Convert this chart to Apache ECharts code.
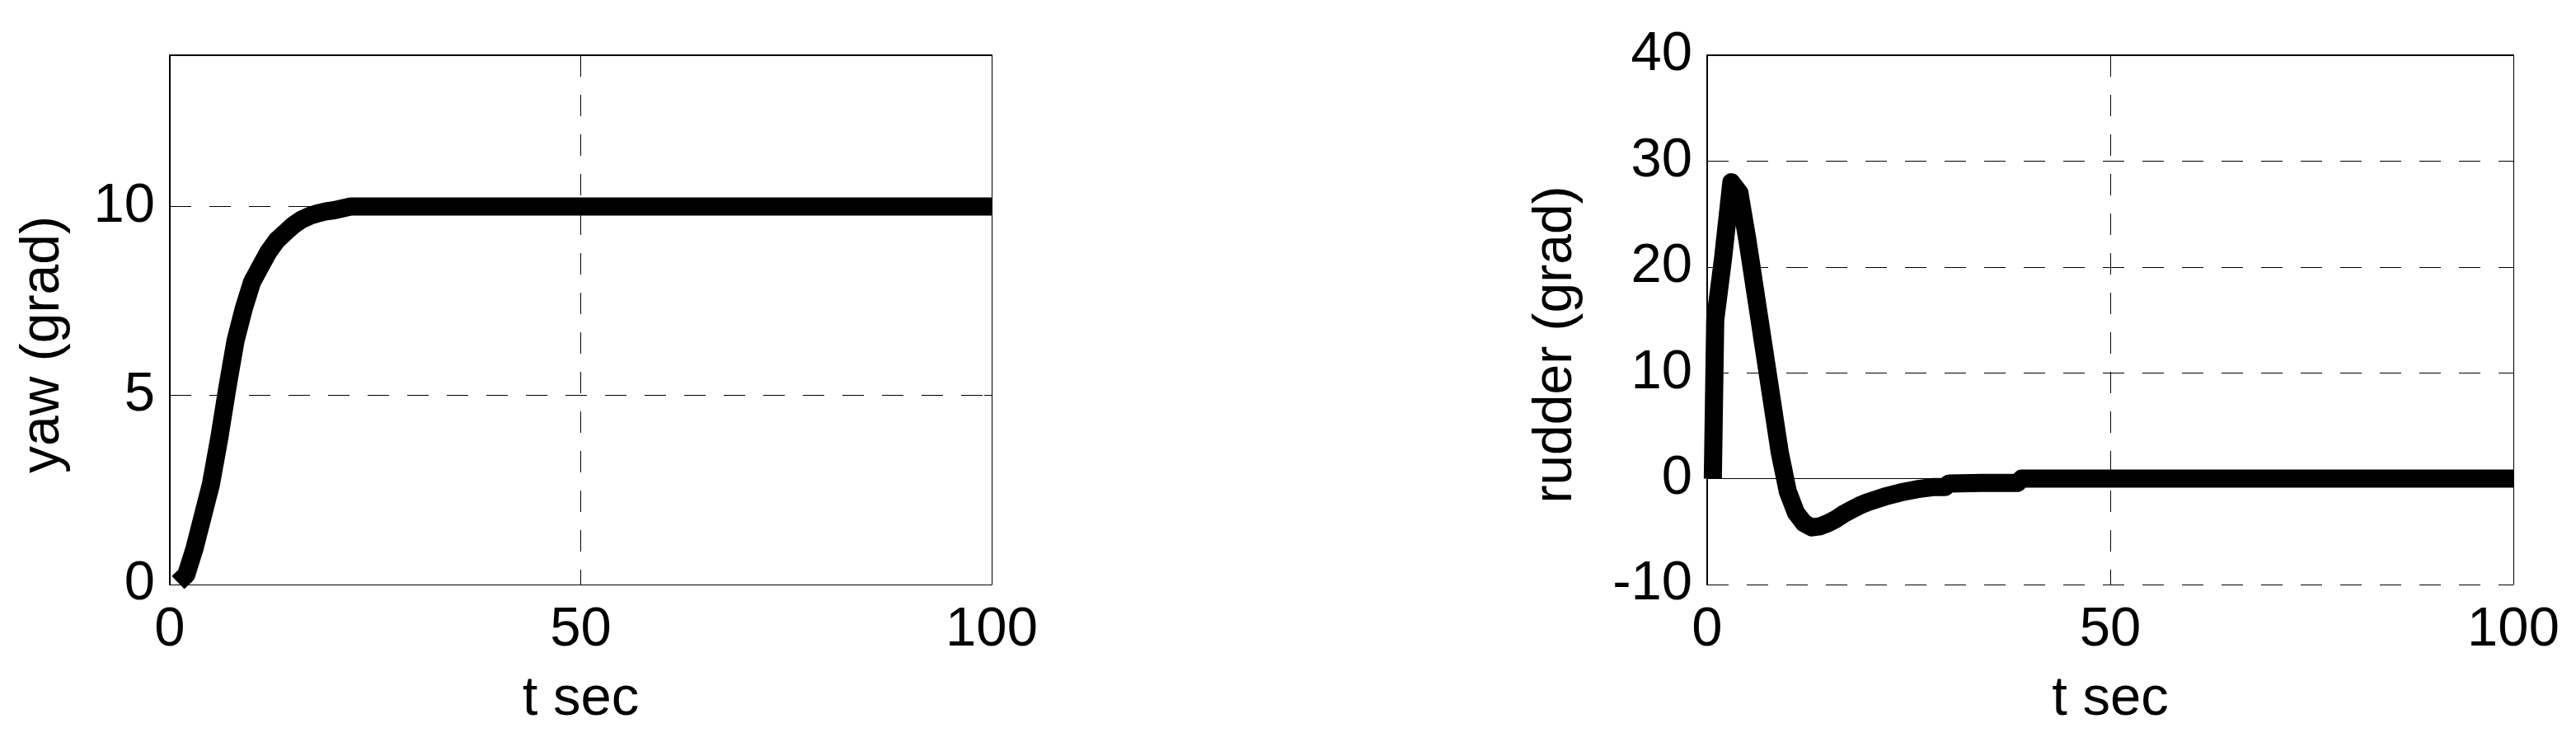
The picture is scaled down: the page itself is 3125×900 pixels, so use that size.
<!DOCTYPE html>
<html>
<head>
<meta charset="utf-8">
<script src="https://cdn.jsdelivr.net/npm/echarts@6/dist/echarts.min.js"></script>
<style>
  html, body { margin: 0; padding: 0; background: #fff; }
  #chart { width: 3125px; height: 900px; }
</style>
</head>
<body>
<div id="chart"></div>
<script>
// yaw response
const yawT = [1, 2, 3, 4, 5, 6, 7, 8, 9, 10, 11, 12, 13, 14, 15, 16, 17, 18, 19, 20, 21, 22, 100]
const yawVal = [0.05, 0.26, 0.95, 1.8, 2.65, 3.85, 5.2, 6.45, 7.3, 8.0, 8.4, 8.8, 9.1, 9.3, 9.5, 9.65, 9.75, 9.82, 9.87, 9.9, 9.95, 10, 10]

// rudder angle
const rudT = [0.7, 1, 2, 3, 4, 5, 6, 7, 8, 9, 10, 11, 12, 13, 14, 15, 16, 17, 18, 19, 20, 22, 24, 26, 28, 29.5, 30, 34, 38.5, 39, 100]
const rudVal = [0, 15, 21, 28, 27, 22.5, 17.5, 12.5, 7.5, 2.5, -1.2, -3.2, -4.2, -4.6, -4.5, -4.2, -3.8, -3.3, -2.9, -2.5, -2.2, -1.7, -1.3, -1.0, -0.8, -0.8, -0.45, -0.4, -0.4, 0, 0]

const xTicks = [0, 50, 100]
const yawTicks = [0, 5, 10]
const rudTicks = [-10, 0, 10, 20, 30, 40]

const FONT = "'Liberation Sans', Arial, sans-serif"
const pairs = (xs, ys) => xs.map((x, i) => [x, ys[i]])

const dashed = { show: true, lineStyle: { color: '#000', width: 1, type: [26, 22] } }
const tick = { show: true, inside: true, length: 9, lineStyle: { color: '#000', width: 1 } }
const label = (ticks) => ({
  show: true,
  color: '#000',
  fontFamily: FONT,
  fontSize: 67,
  margin: 18,
  formatter: (v) => (ticks.indexOf(v) >= 0 ? String(v) : '')
})

const mainX = (gi) => ({
  type: 'value', gridIndex: gi, min: 0, max: 100, interval: 50,
  position: 'bottom',
  name: 't sec', nameLocation: 'middle', nameGap: 106,
  nameTextStyle: { color: '#000', fontFamily: FONT, fontSize: 67 },
  axisLine: { show: true, lineStyle: { color: '#000', width: 1 } },
  axisTick: tick,
  axisLabel: Object.assign(label(xTicks), { margin: 22 }),
  splitLine: dashed
})
const mirrorX = (gi) => ({
  type: 'value', gridIndex: gi, min: 0, max: 100, interval: 50,
  position: 'top',
  axisLine: { show: true, onZero: false, lineStyle: { color: '#000', width: 2 } },
  axisTick: tick, axisLabel: { show: false }, splitLine: { show: false }
})
const mainY = (gi, min, max, interval, ticks, name, gap) => ({
  type: 'value', gridIndex: gi, min: min, max: max, interval: interval,
  position: 'left',
  name: name, nameLocation: 'middle', nameGap: gap,
  // nudge the rotated title a little below the axis middle
  nameTextStyle: { color: '#000', fontFamily: FONT, fontSize: 66, padding: [0, 60, 0, 0] },
  axisLine: { show: true, onZero: false, lineStyle: { color: '#000', width: 2 } },
  axisTick: tick,
  axisLabel: label(ticks),
  splitLine: dashed
})
const mirrorY = (gi, min, max, interval) => ({
  type: 'value', gridIndex: gi, min: min, max: max, interval: interval,
  position: 'right',
  axisLine: { show: true, onZero: false, lineStyle: { color: '#000', width: 1 } },
  axisTick: tick, axisLabel: { show: false }, splitLine: { show: false }
})

const thick = { color: '#000', width: 22, cap: 'butt', join: 'round' }

const chart = echarts.init(document.getElementById('chart'), null, { renderer: 'canvas' })
chart.setOption({
  backgroundColor: '#fff',
  animation: false,
  grid: [
    { left: 206, top: 67, width: 997, height: 642 },
    { left: 2071, top: 67, width: 978, height: 642 }
  ],
  xAxis: [mainX(0), mirrorX(0), mainX(1), mirrorX(1)],
  yAxis: [
    mainY(0, 0, 14, 5, yawTicks, 'yaw (grad)', 120),
    mirrorY(0, 0, 14, 5),
    mainY(1, -10, 40, 10, rudTicks, 'rudder (grad)', 150),
    mirrorY(1, -10, 40, 10)
  ],
  series: [
    {
      type: 'line', xAxisIndex: 0, yAxisIndex: 0,
      data: pairs(yawT, yawVal),
      showSymbol: false, clip: false, lineStyle: thick
    },
    {
      type: 'line', xAxisIndex: 2, yAxisIndex: 2,
      data: pairs(rudT, rudVal),
      showSymbol: false, clip: false, lineStyle: thick
    }
  ]
})
</script>
</body>
</html>
